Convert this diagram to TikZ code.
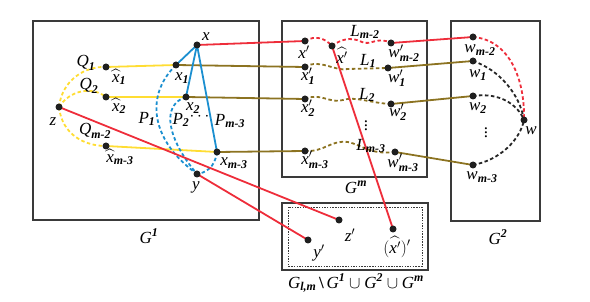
\RequirePackage{fix-cm}
\documentclass[tikz,border=0pt]{standalone}
\usepackage{amsmath,amssymb}
\usepackage{fontspec}
\setmainfont{Liberation Serif}
\usetikzlibrary{calc}
\definecolor{rd}{HTML}{EE2D3A}
\definecolor{yl}{HTML}{FFDD33}
\definecolor{ol}{HTML}{8C7321}
\definecolor{bl}{HTML}{1B8FD0}
\definecolor{bx}{HTML}{3A3A3A}
\newcommand{\iv}[1]{\text{\itshape #1}}
\newcommand{\sbs}[1]{\text{\bfseries\itshape #1}}
\begin{document}
\begin{tikzpicture}[x=1pt,y=-1pt,
  dot/.style={circle,fill=black!88,inner sep=0pt,minimum size=7pt},
  lab/.style={font=\fontsize{17}{19}\selectfont,inner sep=0pt},
  boxline/.style={draw=bx,line width=1.1pt},
  ln/.style={line width=1.8pt},
  dsh/.style={line width=1.8pt,dash pattern=on 3.5pt off 2.5pt}]
\useasboundingbox (0,0) rectangle (590,302);
% boxes
\draw[boxline] (33,21) rectangle (259,220);
\draw[boxline] (282,21) rectangle (427,177);
\draw[boxline] (451,21) rectangle (540,221);
\draw[boxline] (282,203) rectangle (428,270);
\draw[draw=bx,line width=0.7pt,dash pattern=on 1.5pt off 1.2pt] (288,207) rectangle (422,266);
% coordinates
\coordinate (x) at (197,45);
\coordinate (x1) at (176,65);
\coordinate (x2) at (186,97);
\coordinate (xm) at (217,152);
\coordinate (y) at (197,174);
\coordinate (z) at (59,107);
\coordinate (hx1) at (106,67);
\coordinate (hx2) at (106,97);
\coordinate (hxm) at (106,146);
\coordinate (xp) at (305,41);
\coordinate (hxp) at (332,46);
\coordinate (wpm2) at (391,43);
\coordinate (x1p) at (305,67);
\coordinate (w1p) at (388,68);
\coordinate (x2p) at (305,99);
\coordinate (w2p) at (391,104);
\coordinate (xmp) at (305,151);
\coordinate (wmp) at (395,152);
\coordinate (wm2) at (473,37);
\coordinate (w1) at (473,61);
\coordinate (w2) at (473,96);
\coordinate (w) at (524,120);
\coordinate (wm3) at (473,165);
\coordinate (zp) at (339,220);
\coordinate (yp) at (308,240);
\coordinate (hxpp) at (393,229);
% yellow
\draw[ln,yl] (hx1) -- (x1);
\draw[ln,yl] (hx2) -- (x2);
\draw[ln,yl] (hxm) -- (xm);
\draw[dsh,yl] (z) .. controls (62,80) and (85,66) .. (hx1);
\draw[dsh,yl] (z) .. controls (70,90) and (92,86) .. (hx2);
\draw[dsh,yl] (z) .. controls (62,135) and (85,146) .. (hxm);
% olive
\draw[ln,ol] (x1) -- (x1p);
\draw[ln,ol] (x2) -- (x2p);
\draw[ln,ol] (xm) -- (xmp);
\draw[ln,ol] (w1p) -- (w1);
\draw[ln,ol] (w2p) -- (w2);
\draw[ln,ol] (wmp) -- (wm3);
\draw[dsh,ol] (x1p) .. controls (320,58) and (335,72) .. (348,69) -- (w1p);
\draw[dsh,ol] (x2p) .. controls (320,92) and (330,104) .. (343,100) .. controls (355,96) and (370,103) .. (w2p);
\draw[dsh,ol] (xmp) .. controls (325,152) and (330,140) .. (348,142) .. controls (362,145) and (370,155) .. (wmp);
% black dashed in G2
\draw[dsh,black!85] (w1) .. controls (500,70) and (520,95) .. (w);
\draw[dsh,black!85] (w2) .. controls (500,92) and (518,105) .. (w);
\draw[dsh,black!85] (wm3) .. controls (500,160) and (520,140) .. (w);
% blue
\draw[ln,bl] (x) -- (x1);
\draw[ln,bl] (x) -- (x2);
\draw[ln,bl] (x) -- (xm);
\draw[dsh,bl] (x1) .. controls (145,95) and (150,140) .. (y);
\draw[dsh,bl] (x2) .. controls (160,105) and (168,140) .. (y);
\draw[dsh,bl] (xm) .. controls (215,168) and (205,173) .. (y);
% red
\draw[ln,rd] (x) -- (xp);
\draw[ln,rd] (wpm2) -- (wm2);
\draw[dsh,rd] (xp) .. controls (315,35) and (325,38) .. (hxp) .. controls (340,40) and (350,36) .. (362,42) .. controls (370,46) and (378,36) .. (wpm2);
\draw[dsh,rd] (wm2) .. controls (510,40) and (525,80) .. (w);
\draw[ln,rd] (z) -- (zp);
\draw[ln,rd] (y) -- (yp);
\draw[ln,rd] (hxp) -- (hxpp);
% dots
\foreach \p in {x,x1,x2,xm,y,z,hx1,hx2,hxm,xp,hxp,wpm2,x1p,w1p,x2p,w2p,xmp,wmp,wm2,w1,w2,w,wm3,zp,yp,hxpp}
  \node[dot] (d\p) at (\p) {};
% labels G1
\node[lab] (lx) at (206,37) {$\iv{x}$};
\node[lab] (lx1) at (182,78) {$\iv{x}_{\sbs{1}}$};
\node[lab] (lx2) at (193,108) {$\iv{x}_{\sbs{2}}$};
\node[lab] (lxm) at (234,163) {$\iv{x}_{\sbs{m-3}}$};
\node[lab] (ly) at (196,187) {$\iv{y}$};
\node[lab] (lz) at (53,122) {$\iv{z}$};
\node[lab] (lhx1) at (119,77) {$\widehat{\iv{x}}_{\sbs{1}}$};
\node[lab] (lhx2) at (119,106) {$\widehat{\iv{x}}_{\sbs{2}}$};
\node[lab] (lhxm) at (120,157) {$\widehat{\iv{x}}_{\sbs{m-3}}$};
\node[lab] (lq1) at (86,63) {$\iv{Q}_{\sbs{1}}$};
\node[lab] (lq2) at (89,86) {$\iv{Q}_{\sbs{2}}$};
\node[lab] (lqm) at (95,131) {$\iv{Q}_{\sbs{m-2}}$};
\node[lab] (lp1) at (147,119) {$\iv{P}_{\sbs{1}}$};
\node[lab] (lp2) at (181,120) {$\iv{P}_{\sbs{2}}$};
\node[lab] (ldots) at (201,117) {$\cdots$};
\node[lab] (lpm) at (230,121) {$\iv{P}_{\sbs{m-3}}$};
\node[lab] (lg1) at (149,236) {$\iv{G}^{\sbs{1}}$};
% labels Gm
\node[lab] (lxp) at (304,52) {$\iv{x}'$};
\node[lab] (lhxp) at (342,55) {$\widehat{\iv{x}'}$};
\node[lab] (lwpm2) at (404,53) {$\iv{w}_{\sbs{m-2}}'$};
\node[lab] (lx1p) at (308,76) {$\iv{x}_{\sbs{1}}'$};
\node[lab] (lw1p) at (397,78) {$\iv{w}_{\sbs{1}}'$};
\node[lab] (lx2p) at (308,108) {$\iv{x}_{\sbs{2}}'$};
\node[lab] (lw2p) at (398,112) {$\iv{w}_{\sbs{2}}'$};
\node[lab] (lxmp) at (315,160) {$\iv{x}_{\sbs{m-3}}'$};
\node[lab] (lwmp) at (403,163) {$\iv{w}_{\sbs{m-3}}'$};
\node[lab] (llm2) at (365,32) {$\iv{L}_{\sbs{m-2}}$};
\node[lab] (ll1) at (368,61) {$\iv{L}_{\sbs{1}}$};
\node[lab] (ll2) at (367,95) {$\iv{L}_{\sbs{2}}$};
\node[lab] (llm3) at (371,146) {$\iv{L}_{\sbs{m-3}}$};
\node[lab] (lvd1) at (366,123) {$\vdots$};
\node[lab] (lgm) at (356,187) {$\iv{G}^{\sbs{m}}$};
% labels G2
\node[lab] (lwm2) at (480,50) {$\iv{w}_{\sbs{m-2}}$};
\node[lab] (lw1) at (478,75) {$\iv{w}_{\sbs{1}}$};
\node[lab] (lw2) at (478,108) {$\iv{w}_{\sbs{2}}$};
\node[lab] (lw) at (531,131) {$\iv{w}$};
\node[lab] (lwm3) at (482,177) {$\iv{w}_{\sbs{m-3}}$};
\node[lab] (lvd2) at (486,130) {$\vdots$};
\node[lab] (lg2) at (498,237) {$\iv{G}^{\sbs{2}}$};
% bottom box labels
\node[lab] (lzp) at (350,235) {$\iv{z}'$};
\node[lab] (lyp) at (319,253) {$\iv{y}'$};
\node[lab] (lhxpp) at (397,247) {$(\widehat{\iv{x}'})'$};
\node[lab] (lcap) at (356,283) {$\iv{G}_{\sbs{l,m}}\,\text{\bfseries\textbackslash}\,\iv{G}^{\sbs{1}}\cup \iv{G}^{\sbs{2}}\cup \iv{G}^{\sbs{m}}$};
\end{tikzpicture}
\end{document}
